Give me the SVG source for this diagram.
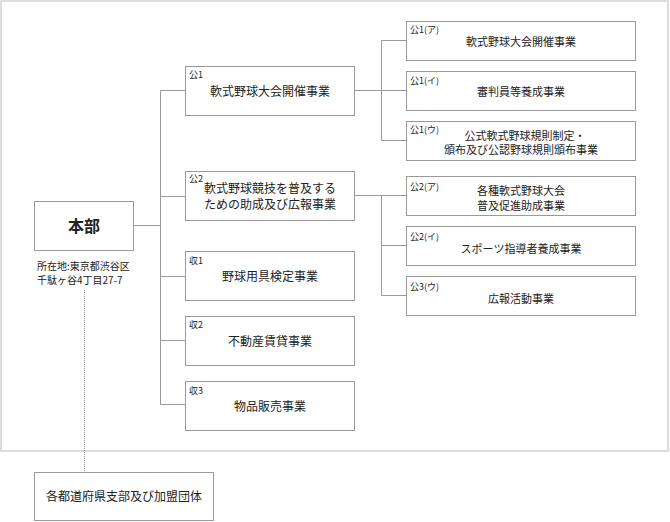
<svg xmlns="http://www.w3.org/2000/svg" width="670" height="522" viewBox="0 0 670 522">
<style>
.box{fill:#fff;stroke:#999;stroke-width:1}
.ln{fill:none;stroke:#999;stroke-width:1}
text{font-family:"Noto Sans CJK JP","Noto Sans",sans-serif;fill:#222}
.lab{font-size:9px}
.t12{font-size:12px;text-anchor:middle}
.t11{font-size:11px;text-anchor:middle}
</style>
<rect x="1" y="1" width="667" height="450" fill="#fff" stroke="#ddd" stroke-width="2"/>
<g id="connectors">
<path class="ln" d="M133.5 225.5H160.5M160.5 90.5V404.5M160.5 90.5H185.5M160.5 196.5H185.5M160.5 276.5H185.5M160.5 340.5H185.5M160.5 404.5H185.5"/>
<path class="ln" d="M354.5 90.5H381.5M381.5 40.5V140.5M381.5 40.5H406.5M381.5 140.5H406.5M381.5 90.5H406.5"/>
<path class="ln" d="M354.5 195.5H381.5M381.5 195.5V295.5M381.5 195.5H406.5M381.5 245.5H406.5M381.5 295.5H406.5"/>
<path d="M84.5 290V472" fill="none" stroke="#999" stroke-width="1" stroke-dasharray="1,1"/>
</g>
<g id="honbu">
<rect class="box" x="34.5" y="201.5" width="99" height="49"/>
<text x="84" y="232" font-size="16" font-weight="bold" text-anchor="middle">本部</text>
<text x="37" y="270" font-size="10">所在地:東京都渋谷区</text>
<text x="37" y="283.5" font-size="10">千駄ヶ谷4丁目27-7</text>
</g>
<g id="branches">
<rect class="box" x="34.5" y="472.5" width="179" height="48"/>
<text x="124" y="501" font-size="12" text-anchor="middle">各都道府県支部及び加盟団体</text>
</g>
<g id="k1">
<rect class="box" x="185.5" y="66.5" width="169" height="49"/>
<text class="lab" x="189" y="78">公1</text>
<text class="t12" x="270" y="95.5">軟式野球大会開催事業</text>
</g>
<g id="k2">
<rect class="box" x="185.5" y="171.5" width="169" height="49"/>
<text class="lab" x="189" y="182">公2</text>
<text class="t12" x="270" y="193">軟式野球競技を普及する</text>
<text class="t12" x="270" y="208.5">ための助成及び広報事業</text>
</g>
<g id="s1">
<rect class="box" x="185.5" y="251.5" width="169" height="49"/>
<text class="lab" x="189" y="264">収1</text>
<text class="t12" x="270" y="280.5">野球用具検定事業</text>
</g>
<g id="s2">
<rect class="box" x="185.5" y="316.5" width="169" height="49"/>
<text class="lab" x="189" y="328">収2</text>
<text class="t12" x="270" y="346">不動産賃貸事業</text>
</g>
<g id="s3">
<rect class="box" x="185.5" y="381.5" width="169" height="49"/>
<text class="lab" x="189" y="393.5">収3</text>
<text class="t12" x="270" y="411">物品販売事業</text>
</g>
<g id="k1a">
<rect class="box" x="406.5" y="21.5" width="229" height="39"/>
<text class="lab" x="410" y="33">公1(ア)</text>
<text class="t11" x="521" y="46">軟式野球大会開催事業</text>
</g>
<g id="k1i">
<rect class="box" x="406.5" y="71.5" width="229" height="39"/>
<text class="lab" x="410" y="83.5">公1(イ)</text>
<text class="t11" x="521" y="96">審判員等養成事業</text>
</g>
<g id="k1u">
<rect class="box" x="406.5" y="121.5" width="229" height="39"/>
<text class="lab" x="410" y="133">公1(ウ)</text>
<text class="t11" x="525" y="139.5">公式軟式野球規則制定・</text>
<text class="t11" x="521" y="154">頒布及び公認野球規則頒布事業</text>
</g>
<g id="k2a">
<rect class="box" x="406.5" y="176.5" width="229" height="39"/>
<text class="lab" x="410" y="189.5">公2(ア)</text>
<text class="t11" x="521" y="195">各種軟式野球大会</text>
<text class="t11" x="521" y="209.5">普及促進助成事業</text>
</g>
<g id="k2i">
<rect class="box" x="406.5" y="226.5" width="229" height="39"/>
<text class="lab" x="410" y="239.5">公2(イ)</text>
<text class="t11" x="521" y="252.5">スポーツ指導者養成事業</text>
</g>
<g id="k3u">
<rect class="box" x="406.5" y="276.5" width="229" height="39"/>
<text class="lab" x="410" y="289.5">公3(ウ)</text>
<text class="t11" x="521" y="302.5">広報活動事業</text>
</g>
</svg>
